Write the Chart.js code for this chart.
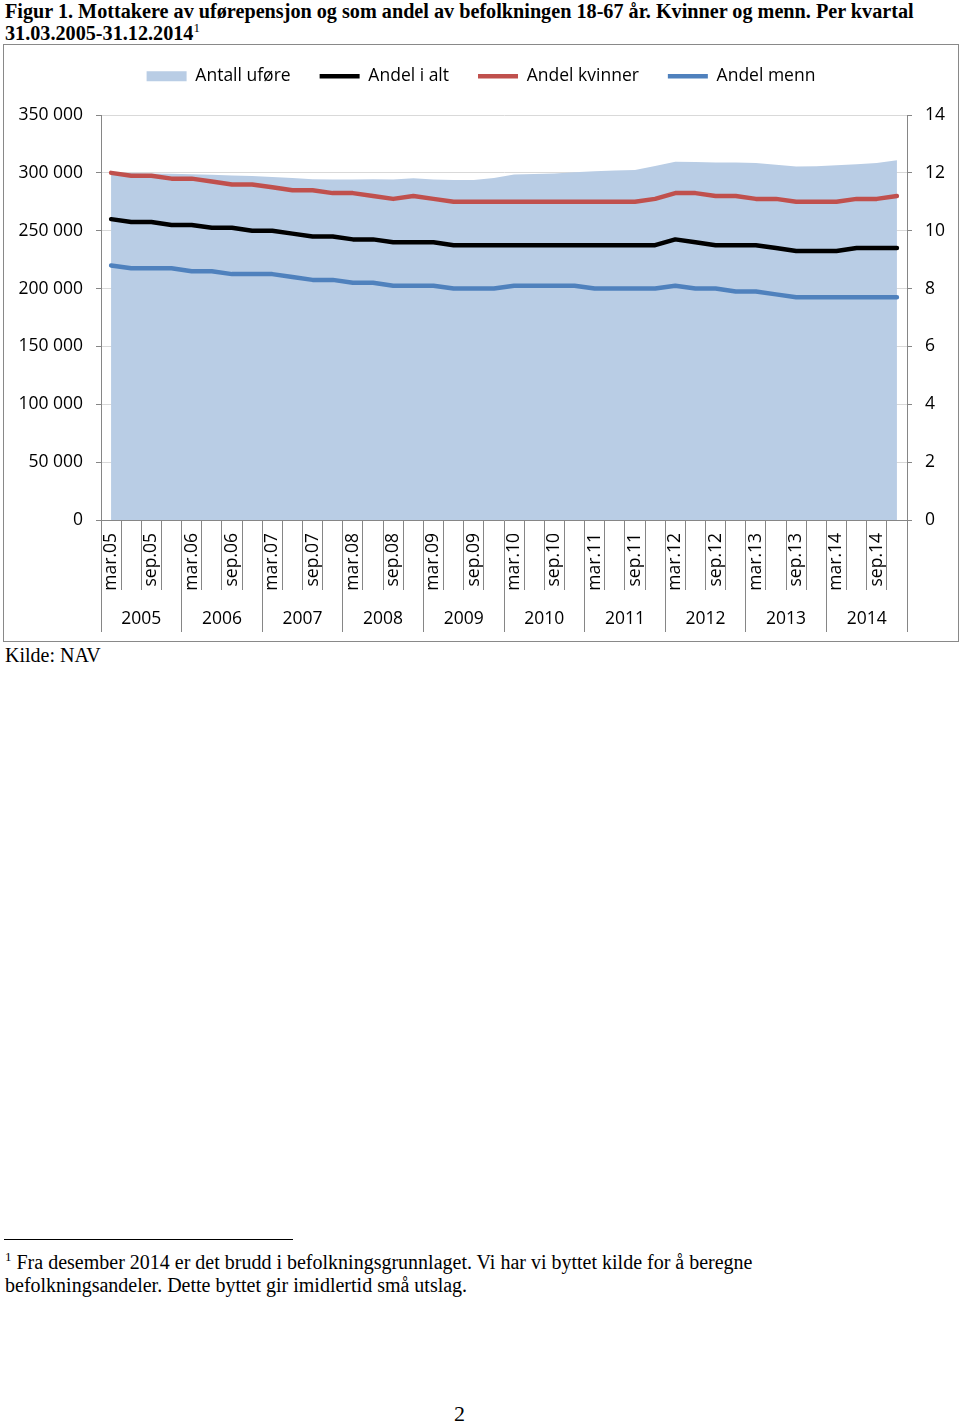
<!DOCTYPE html>
<html><head><meta charset="utf-8">
<script src="https://cdn.jsdelivr.net/npm/chart.js@4.4.0/dist/chart.umd.min.js"></script>
<style>
body{margin:0;background:#fff;width:960px;height:1425px;position:relative;font-family:"Liberation Serif","Times New Roman",serif;color:#000}
.t{position:absolute;white-space:nowrap}
#title{left:5px;top:0;font-weight:bold;font-size:20.2px;line-height:22px}
sup{font-size:13px;vertical-align:super;line-height:0}
#title sup{font-weight:normal}
#box{position:absolute;left:3px;top:44px;width:954px;height:596px;border:1px solid #898989}
#box canvas{position:absolute;left:0;top:0}
#kilde{left:5px;top:644px;font-size:20px}
#rule{position:absolute;left:4px;top:1239px;width:289px;height:1px;background:#000}
#fn1{left:5px;top:1251px;font-size:20px;line-height:23px}
#page{left:454px;top:1401px;font-size:22px}
</style></head>
<body>
<div class="t" id="title">Figur 1. Mottakere av uførepensjon og som andel av befolkningen 18-67 år. Kvinner og menn. Per kvartal<br>31.03.2005-31.12.2014<sup>1</sup></div>
<div id="box"><canvas id="c" width="954" height="596"></canvas></div>
<div class="t" id="kilde">Kilde: NAV</div>
<div id="rule"></div>
<div class="t" id="fn1"><sup>1</sup> Fra desember 2014 er det brudd i befolkningsgrunnlaget. Vi har vi byttet kilde for å beregne<br>befolkningsandeler. Dette byttet gir imidlertid små utslag.</div>
<div class="t" id="page">2</div>
<script>
const quarters = [
 'mar.05','jun.05','sep.05','des.05','mar.06','jun.06','sep.06','des.06',
 'mar.07','jun.07','sep.07','des.07','mar.08','jun.08','sep.08','des.08',
 'mar.09','jun.09','sep.09','des.09','mar.10','jun.10','sep.10','des.10',
 'mar.11','jun.11','sep.11','des.11','mar.12','jun.12','sep.12','des.12',
 'mar.13','jun.13','sep.13','des.13','mar.14','jun.14','sep.14','des.14'];
const years = ['2005','2006','2007','2008','2009','2010','2011','2012','2013','2014'];
const antallUfore = [
 300000,299800,299500,299200,298800,298300,297800,297300,
 296500,295500,294500,294300,294300,294500,294300,295300,
 294300,293800,293800,295500,298500,299000,299500,300500,
 301300,302000,302500,306000,309700,309300,309000,309000,
 308500,307000,305500,305800,306500,307500,308500,311000];
const andelIAlt = [
 10.4,10.3,10.3,10.2,10.2,10.1,10.1,10.0,10.0,9.9,9.8,9.8,9.7,9.7,9.6,9.6,9.6,
 9.5,9.5,9.5,9.5,9.5,9.5,9.5,9.5,9.5,9.5,9.5,
 9.7,9.6,9.5,9.5,9.5,9.4,9.3,9.3,9.3,9.4,9.4,9.4];
const andelKvinner = [
 12.0,11.9,11.9,11.8,11.8,11.7,11.6,11.6,11.5,11.4,11.4,11.3,11.3,11.2,11.1,11.2,11.1,
 11.0,11.0,11.0,11.0,11.0,11.0,11.0,11.0,11.0,11.0,
 11.1,11.3,11.3,11.2,11.2,11.1,11.1,11.0,11.0,11.0,11.1,11.1,11.2];
const andelMenn = [
 8.8,8.7,8.7,8.7,8.6,8.6,8.5,8.5,8.5,8.4,8.3,8.3,8.2,8.2,8.1,8.1,8.1,
 8.0,8.0,8.0,8.1,8.1,8.1,8.1,8.0,8.0,8.0,8.0,8.1,8.0,8.0,7.9,7.9,7.8,
 7.7,7.7,7.7,7.7,7.7,7.7];

const FONT = '"Open Sans", sans-serif';
const AXIS = '#868686';
const AREA = '#b9cde5';

function lineSet(label, data, color) {
  return {
    type: 'line', label, data, yAxisID: 'yR', order: 0,
    borderColor: color, backgroundColor: color, borderWidth: 4.5,
    borderJoinStyle: 'round', borderCapStyle: 'round', tension: 0, fill: false,
    pointRadius: 0, pointHoverRadius: 0, pointStyle: 'line',
    pointBorderColor: color, pointBackgroundColor: color, pointBorderWidth: 4.5
  };
}

const yearAxis = {
  id: 'yearAxis',
  afterDraw(chart) {
    const x = chart.scales.x, ctx = chart.ctx;
    const n = quarters.length, per = n / years.length;
    const half = (x.getPixelForValue(1) - x.getPixelForValue(0)) / 2;
    const align = p => Math.round(p - 0.5) + 0.5;
    ctx.save();
    ctx.strokeStyle = AXIS; ctx.lineWidth = 1;
    for (let k = 0; k <= years.length; k++) {
      const idx = k * per;
      const px = idx >= n ? x.getPixelForValue(n - 1) + half : x.getPixelForValue(idx) - half;
      ctx.beginPath();
      ctx.moveTo(align(px), x.top + 70);
      ctx.lineTo(align(px), x.top + 112);
      ctx.stroke();
    }
    ctx.fillStyle = '#000';
    ctx.font = '17.5px ' + FONT;
    ctx.textAlign = 'center'; ctx.textBaseline = 'middle';
    years.forEach((y, k) => {
      const c = (x.getPixelForValue(k * per) + x.getPixelForValue(k * per + per - 1)) / 2;
      ctx.fillText(y, c, x.top + 99);
    });
    ctx.restore();
  }
};

new Chart(document.getElementById('c'), {
  type: 'line',
  data: {
    labels: quarters,
    datasets: [
      { type: 'line', label: 'Antall uføre', data: antallUfore, yAxisID: 'yL', order: 10,
        backgroundColor: AREA, borderColor: AREA, borderWidth: 0, fill: 'origin', tension: 0,
        pointRadius: 0, pointHoverRadius: 0, pointStyle: 'rect',
        pointBackgroundColor: AREA, pointBorderColor: AREA, pointBorderWidth: 0 },
      lineSet('Andel i alt', andelIAlt, '#000000'),
      lineSet('Andel kvinner', andelKvinner, '#c0504d'),
      lineSet('Andel menn', andelMenn, '#4f81bd')
    ]
  },
  options: {
    responsive: false, animation: false, devicePixelRatio: 1,
    layout: { padding: { top: -6.5, left: 0, right: 0, bottom: 0 } },
    plugins: {
      legend: {
        position: 'top',
        labels: { usePointStyle: true, pointStyleWidth: 40, boxHeight: 10, padding: 29,
          color: '#000', font: { family: FONT, size: 17.5 },
          sort: (a, b) => a.datasetIndex - b.datasetIndex }
      },
      title: { display: true, text: '', weight: 500, position: 'top',
        font: { size: 1, lineHeight: 1 }, padding: { top: 0, bottom: 19 } },
      tooltip: { enabled: false }
    },
    scales: {
      x: {
        type: 'category', offset: true,
        grid: { offset: true, drawOnChartArea: false, tickLength: 70, color: AXIS, tickColor: AXIS },
        border: { color: AXIS },
        ticks: { autoSkip: false, minRotation: 90, maxRotation: 90, padding: -57, color: '#000',
          font: { family: FONT, size: 17.5 },
          callback: (v, i) => (i % 2 === 0 ? quarters[i] : '') },
        afterFit: s => { s.height = 121; }
      },
      yL: {
        position: 'left', min: 0, max: 350000,
        grid: { color: '#d9d9d9', tickColor: AXIS, tickLength: 5 },
        border: { color: AXIS },
        ticks: { stepSize: 50000, padding: 13, color: '#000', font: { family: FONT, size: 17.5 },
          callback: v => v === 0 ? '0' : String(v).replace(/\B(?=(\d{3})+(?!\d))/g, ' ') },
        afterFit: s => { s.width = 97; }
      },
      yR: {
        position: 'right', min: 0, max: 14,
        grid: { drawOnChartArea: false, tickColor: AXIS, tickLength: 5 },
        border: { color: AXIS },
        ticks: { stepSize: 2, padding: 13, color: '#000', font: { family: FONT, size: 17.5 } },
        afterFit: s => { s.width = 51; }
      }
    }
  },
  plugins: [yearAxis]
});
</script>
</body></html>
